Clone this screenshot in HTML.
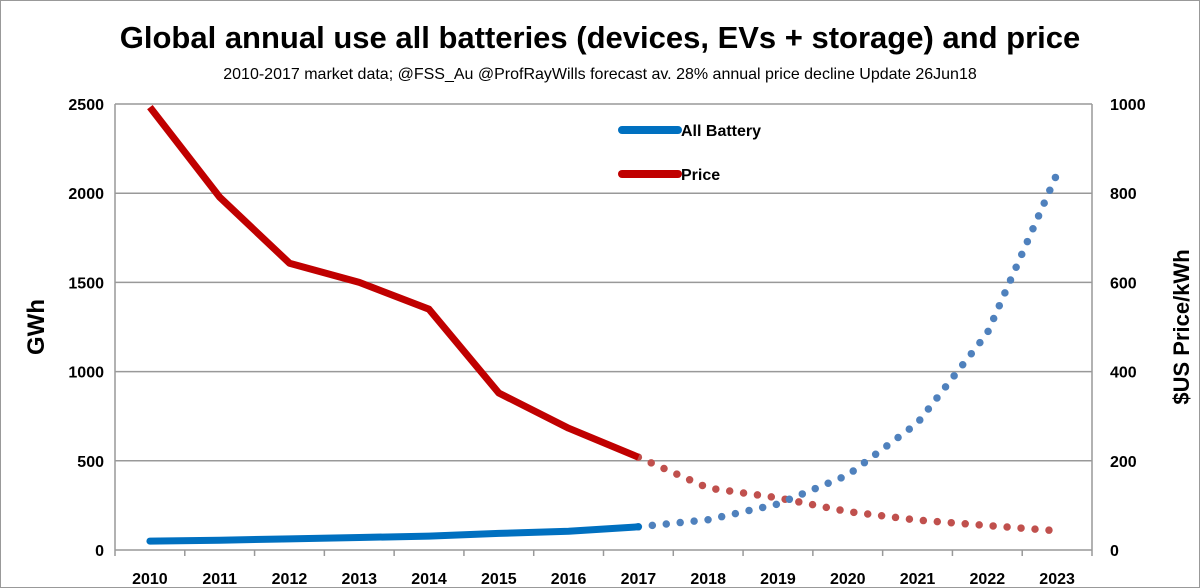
<!DOCTYPE html>
<html><head><meta charset="utf-8"><style>
html,body{margin:0;padding:0;background:#fff;}
svg{display:block;font-family:"Liberation Sans",Arial,sans-serif;}
</style></head><body>
<svg id="chart" width="1200" height="588" viewBox="0 0 1200 588" xmlns="http://www.w3.org/2000/svg">
<rect x="0.5" y="0.5" width="1199" height="587" fill="#fff" stroke="#999"/>
<text x="600" y="48" text-anchor="middle" font-size="31" font-weight="bold">Global annual use all batteries (devices, EVs + storage) and price</text>
<text x="600" y="79" text-anchor="middle" font-size="16">2010-2017 market data; @FSS_Au @ProfRayWills forecast av. 28% annual price decline Update 26Jun18</text>
<g id="grid"></g><g id="axes"></g><g id="series"></g>
<g>
<line x1="622" y1="130" x2="678" y2="130" stroke="#0070c0" stroke-width="8" stroke-linecap="round"/>
<text x="681" y="136" font-size="16" font-weight="bold">All Battery</text>
<line x1="622" y1="174" x2="678" y2="174" stroke="#c00000" stroke-width="8" stroke-linecap="round"/>
<text x="681" y="180" font-size="16" font-weight="bold">Price</text>
</g>
<text transform="translate(44,327) rotate(-90)" text-anchor="middle" font-size="24" font-weight="bold">GWh</text>
<text transform="translate(1189,327) rotate(-90)" text-anchor="middle" font-size="22" font-weight="bold">$US  Price/kWh</text>
</svg>
<script>
const years=[2010,2011,2012,2013,2014,2015,2016,2017,2018,2019,2020,2021,2022,2023];
const batteryActual=[50,55,62,70,78,93,105,130];
const batteryForecast=[130,170,258,420,712,1216,2110];
const priceActual=[993,791,643,600,540,352,273,208];
const priceForecast=[208,139,117,86,67,55,43];
const leftTicks=[0,500,1000,1500,2000,2500];
const rightTicks=[0,200,400,600,800,1000];

const NS="http://www.w3.org/2000/svg";
const L=115,R=1092,T=104,B=550;
const step=(R-L)/years.length;
function xi(i){return L+step*(i+0.5);}
function yL(v){return B-(v/2500)*(B-T);}
function yR(v){return B-(v/1000)*(B-T);}
function mk(tag,attrs,parent){const e=document.createElementNS(NS,tag);for(const k in attrs)e.setAttribute(k,attrs[k]);parent.appendChild(e);return e;}
const grid=document.getElementById('grid'),axes=document.getElementById('axes'),series=document.getElementById('series');
leftTicks.forEach((v,i)=>{
  const y=yL(v);
  if(v>0){const g=mk('line',{x1:L,x2:R,y1:y,y2:y,stroke:'#999','stroke-width':1.5},grid);
  
  }
  const t=mk('text',{x:L-11,y:y+6,'text-anchor':'end','font-size':16,'font-weight':'bold'},axes);t.textContent=v;
  
  
});
rightTicks.forEach(v=>{
  const t=mk('text',{x:R+18,y:yR(v)+6,'font-size':16,'font-weight':'bold'},axes);t.textContent=v;
  
  
});
let a=mk('line',{x1:L,x2:L,y1:T,y2:B,stroke:'#999','stroke-width':1.5},axes);


a=mk('line',{x1:R,x2:R,y1:T,y2:B,stroke:'#999','stroke-width':1.5},axes);


a=mk('line',{x1:L,x2:R,y1:B,y2:B,stroke:'#999','stroke-width':1.5},axes);


for(let i=0;i<=years.length;i++){const x=L+step*i;const tk=mk('line',{x1:x,x2:x,y1:B,y2:B+6,stroke:'#999','stroke-width':1.5},axes);
  
  }
years.forEach((yr,i)=>{const t=mk('text',{x:xi(i),y:584,'text-anchor':'middle','font-size':16,'font-weight':'bold'},axes);t.textContent=yr;
  
  });
function pts(arr,off,yf){return arr.map((v,i)=>xi(i+off).toFixed(1)+','+yf(v).toFixed(1)).join(' ');}
let p;
p=mk('polyline',{points:pts(priceForecast,7,yR),fill:'none',stroke:'#c0504d','stroke-width':7.5,'stroke-linecap':'round','stroke-dasharray':'0 14'},series);


p=mk('polyline',{points:pts(batteryForecast,7,yL),fill:'none',stroke:'#4f81bd','stroke-width':7.5,'stroke-linecap':'round','stroke-dasharray':'0 14'},series);


p=mk('polyline',{points:pts(priceActual,0,yR),fill:'none',stroke:'#c00000','stroke-width':7,'stroke-linejoin':'round'},series);


p=mk('polyline',{points:pts(batteryActual,0,yL),fill:'none',stroke:'#0070c0','stroke-width':7,'stroke-linejoin':'round','stroke-linecap':'round'},series);


</script>
</body></html>
